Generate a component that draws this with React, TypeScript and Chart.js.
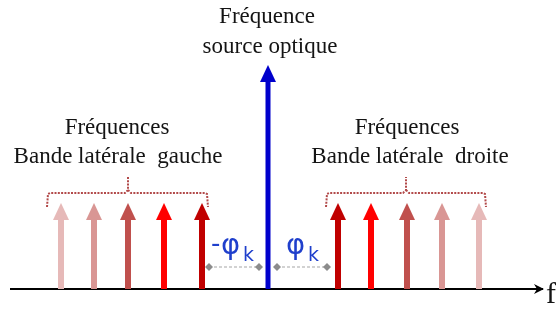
import React, { useEffect, useRef } from "react";
import { Chart, registerables } from "chart.js";
Chart.register(...registerables);

// ---- data (frequency offsets relative to the optical carrier, arbitrary amplitude units)
const lowerFreqs = [-207, -174, -140, -104, -66];
const lowerAmps = [86, 86, 86, 86, 86];
const lowerColors = ["#E6B9B8", "#D99694", "#C0504D", "#FF0000", "#C00000"];
const carrierFreqs = [0];
const carrierAmps = [224];
const carrierColors = ["#0000CC"];
const upperFreqs = [70, 103, 139, 174, 211];
const upperAmps = [86, 86, 86, 86, 86];
const upperColors = ["#C00000", "#FF0000", "#C0504D", "#D99694", "#E6B9B8"];
const leftGapX = [-59, -9];
const rightGapX = [9, 59];
const gapLevel = 22;
const leftBraceX = [-221, -140, -60];
const rightBraceX = [58, 138, 218];
const braceLevels = [82, 96, 112];
const axisX = [-258, 275];

const topLabel = ["Fréquence", "source optique"];
const leftLabel = ["Fréquences", "Bande latérale  gauche"];
const rightLabel = ["Fréquences", "Bande latérale  droite"];

function braceHalves(xs: number[]) {
  const [x0, mid, x1] = xs;
  const [lo, line, hi] = braceLevels;
  const a = [
    { x: x0, y: lo },
    { x: x0 + 1, y: line - 1 },
    { x: x0 + 3, y: line },
    { x: mid - 3, y: line },
    { x: mid, y: line + 3 },
    { x: mid, y: hi },
  ];
  const b = [
    { x: mid, y: line + 3 },
    { x: mid + 3, y: line },
    { x: x1 - 3, y: line },
    { x: x1 - 1, y: line - 1 },
    { x: x1, y: lo },
  ];
  return [a, b];
}

const arrowPlugin = {
  id: "arrows",
  afterDatasetsDraw(chart: any) {
    const ctx = chart.ctx;
    const yScale = chart.scales.y;
    const base = yScale.getPixelForValue(0);
    chart.data.datasets.forEach((ds: any, i: number) => {
      if (!ds.arrowColors) return;
      const meta = chart.getDatasetMeta(i);
      meta.data.forEach((el: any, j: number) => {
        const color = ds.arrowColors[j];
        const x = el.x;
        const tip = el.y;
        const headH = 17;
        const headW = ds.headWidth;
        ctx.save();
        ctx.fillStyle = color;
        ctx.fillRect(x - ds.shaftWidth / 2, tip + headH - 1, ds.shaftWidth, base - (tip + headH - 1));
        ctx.beginPath();
        ctx.moveTo(x, tip);
        ctx.lineTo(x + headW / 2, tip + headH);
        ctx.lineTo(x - headW / 2, tip + headH);
        ctx.closePath();
        ctx.fill();
        ctx.restore();
      });
    });
    // axis arrowhead
    const xScale = chart.scales.x;
    const ex = xScale.getPixelForValue(axisX[1]);
    ctx.save();
    ctx.fillStyle = "#000";
    ctx.beginPath();
    ctx.moveTo(ex + 1, base);
    ctx.lineTo(ex - 9, base - 5);
    ctx.lineTo(ex - 6, base);
    ctx.lineTo(ex - 9, base + 5);
    ctx.closePath();
    ctx.fill();
    ctx.restore();
  },
};

const textPlugin = {
  id: "texts",
  afterDraw(chart: any) {
    const ctx = chart.ctx;
    ctx.save();
    ctx.fillStyle = "#141414";
    ctx.textBaseline = "alphabetic";
    ctx.textAlign = "center";
    ctx.font = '23px "Liberation Serif", "Times New Roman", serif';
    ctx.fillText(topLabel[0], 267, 23);
    ctx.fillText(topLabel[1], 270, 53);
    ctx.fillText(leftLabel[0], 117, 134);
    ctx.fillText(leftLabel[1], 118, 163);
    ctx.fillText(rightLabel[0], 407, 134);
    ctx.fillText(rightLabel[1], 410, 163);
    ctx.textAlign = "left";
    ctx.font = '30px "Liberation Serif", "Times New Roman", serif';
    ctx.fillText("f", 546, 303);
    // phi labels
    ctx.fillStyle = "#1F3FCC";
    ctx.font = '26px "DejaVu Sans", sans-serif';
    ctx.fillText("-", 211, 252);
    ctx.font = '29px "DejaVu Sans", sans-serif';
    ctx.fillText("φ", 221, 254);
    ctx.fillText("φ", 286, 254);
    ctx.font = '19px "DejaVu Sans", sans-serif';
    ctx.fillText("k", 243, 261);
    ctx.fillText("k", 308, 261);
    ctx.restore();
  },
};

export default function App() {
  const ref = useRef<HTMLCanvasElement>(null);
  useEffect(() => {
    if (!ref.current) return;
    const [lbA, lbB] = braceHalves(leftBraceX);
    const [rbA, rbB] = braceHalves(rightBraceX);
    const gapDs = (xs: number[]) => ({
      data: xs.map((x) => ({ x, y: gapLevel })),
      showLine: true,
      borderColor: "#A6A6A6",
      borderWidth: 1.2,
      borderDash: [3, 2],
      pointStyle: "rectRot",
      pointRadius: 4,
      pointBackgroundColor: "#8C8C8C",
      pointBorderColor: "#8C8C8C",
      pointBorderWidth: 0,
      clip: false,
    });
    const braceDs = (pts: any[]) => ({
      data: pts,
      showLine: true,
      borderColor: "#B24A4A",
      borderWidth: 2,
      borderDash: [2, 1.3],
      pointRadius: 0,
      clip: false,
    });
    const arrowDs = (fs: number[], as: number[], colors: string[], shaftWidth: number, headWidth: number) => ({
      data: fs.map((x, i) => ({ x, y: as[i] })),
      pointRadius: 0,
      showLine: false,
      arrowColors: colors,
      shaftWidth,
      headWidth,
      clip: false,
    });
    const chart = new Chart(ref.current, {
      type: "scatter",
      data: {
        datasets: [
          {
            data: axisX.map((x) => ({ x, y: 0 })),
            showLine: true,
            borderColor: "#000",
            borderWidth: 2,
            pointRadius: 0,
            clip: false,
          } as any,
          gapDs(leftGapX),
          gapDs(rightGapX),
          braceDs(lbA),
          braceDs(lbB),
          braceDs(rbA),
          braceDs(rbB),
          arrowDs(lowerFreqs, lowerAmps, lowerColors, 6, 16),
          arrowDs(carrierFreqs, carrierAmps, carrierColors, 5, 16),
          arrowDs(upperFreqs, upperAmps, upperColors, 6, 16),
        ] as any,
      },
      options: {
        animation: false,
        responsive: false,
        layout: { padding: 0, autoPadding: false },
        plugins: { legend: { display: false }, tooltip: { enabled: false } },
        scales: {
          x: { type: "linear", display: false, min: -268, max: 290 },
          y: { type: "linear", display: false, min: -20, max: 289 },
        },
      },
      plugins: [arrowPlugin, textPlugin],
    });
    return () => chart.destroy();
  }, []);
  return (
    <div style={{ position: "fixed", left: 0, top: 0, width: 558, height: 309, background: "#fff" }}>
      <canvas ref={ref} width={558} height={309} style={{ display: "block" }} />
    </div>
  );
}
